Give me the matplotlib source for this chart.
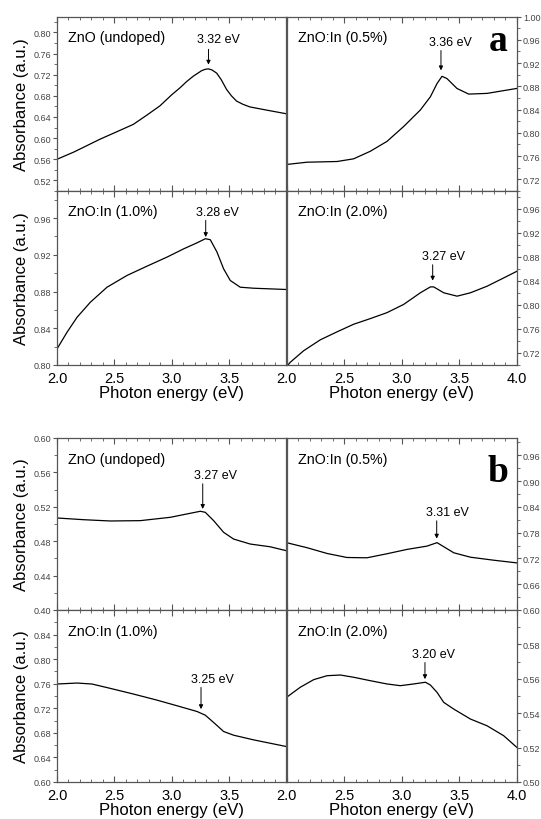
import matplotlib
matplotlib.use("Agg")
import matplotlib.pyplot as plt
from matplotlib.ticker import MultipleLocator, FixedLocator

plt.rcParams["font.family"] = ["Liberation Sans", "DejaVu Sans"]

# ---- digitised spectra (photon energy in eV, absorbance in a.u.) ----
# panel a
E_A_UNDOPED = [2.0, 2.15, 2.375, 2.5, 2.665, 2.78, 2.897, 3.0, 3.071, 3.13, 3.187, 3.26, 3.29, 3.318,
               3.35, 3.391, 3.43, 3.478, 3.52, 3.565, 3.62, 3.681, 3.826, 4.0]
A_A_UNDOPED = [0.560, 0.574, 0.598, 0.610, 0.626, 0.643, 0.661, 0.682, 0.695, 0.707, 0.717, 0.7275, 0.730,
               0.731, 0.729, 0.723, 0.711, 0.692, 0.680, 0.670, 0.664, 0.659, 0.653, 0.646]

E_A_05 = [2.0, 2.178, 2.439, 2.583, 2.728, 2.873, 3.018, 3.163, 3.25, 3.308, 3.351, 3.394, 3.481, 3.583,
          3.742, 4.0]
A_A_05 = [0.7456, 0.7495, 0.7507, 0.7553, 0.7683, 0.7853, 0.8109, 0.8393, 0.862, 0.8848, 0.8972, 0.8933,
          0.8763, 0.8666, 0.8678, 0.8763]

E_A_10 = [2.0, 2.087, 2.175, 2.291, 2.436, 2.61, 2.784, 2.959, 3.104, 3.22, 3.293, 3.336, 3.394, 3.452,
          3.51, 3.597, 3.713, 4.0]
A_A_10 = [0.8175, 0.8356, 0.852, 0.8684, 0.8847, 0.8975, 0.9076, 0.9175, 0.9265, 0.933, 0.9375, 0.9364,
          0.923, 0.9047, 0.892, 0.8847, 0.8836, 0.8822]

E_A_20 = [2.0, 2.033, 2.149, 2.294, 2.439, 2.583, 2.728, 2.873, 3.018, 3.163, 3.25, 3.279, 3.366, 3.482,
          3.598, 3.742, 3.887, 4.0]
A_A_20 = [0.697, 0.7046, 0.7237, 0.7419, 0.7551, 0.7677, 0.7771, 0.787, 0.8007, 0.82, 0.8298, 0.8298,
          0.82, 0.8144, 0.82, 0.8309, 0.8447, 0.8556]

# panel b
E_B_UNDOPED = [2.0, 2.232, 2.465, 2.726, 2.988, 3.133, 3.249, 3.292, 3.365, 3.452, 3.539, 3.684, 3.858, 4.0]
A_B_UNDOPED = [0.507, 0.505, 0.5035, 0.5039, 0.5078, 0.5117, 0.5148, 0.5136, 0.5039, 0.4903, 0.4825,
               0.4767, 0.4735, 0.4689]

E_B_05 = [2.0, 2.178, 2.352, 2.525, 2.699, 2.873, 3.047, 3.221, 3.308, 3.366, 3.453, 3.598, 3.8, 4.0]
A_B_05 = [0.7566, 0.7449, 0.7315, 0.7221, 0.7214, 0.7308, 0.7409, 0.7486, 0.7566, 0.7472, 0.7331, 0.7228,
          0.7158, 0.7096]

E_B_10 = [2.0, 2.174, 2.305, 2.465, 2.668, 2.871, 3.046, 3.22, 3.292, 3.365, 3.452, 3.539, 3.713, 4.0]
A_B_10 = [0.7595, 0.7611, 0.7595, 0.7524, 0.7431, 0.7333, 0.7241, 0.7148, 0.7088, 0.6969, 0.6822, 0.6762,
          0.6686, 0.6577]

E_B_20 = [2.0, 2.12, 2.236, 2.352, 2.468, 2.583, 2.728, 2.873, 2.989, 3.105, 3.207, 3.25, 3.308, 3.366,
          3.453, 3.598, 3.742, 3.887, 4.0]
A_B_20 = [0.5492, 0.5551, 0.5595, 0.5618, 0.5622, 0.5609, 0.5589, 0.557, 0.556, 0.557, 0.558, 0.5564,
          0.5521, 0.5463, 0.5424, 0.5366, 0.5327, 0.5269, 0.5202]

SAMPLES = ["ZnO (undoped)", "ZnO:In (0.5%)", "ZnO:In (1.0%)", "ZnO:In (2.0%)"]

# peak labels: text, arrow x, arrow tail y, arrow tip y, text x, text y
PEAKS_A = [("3.32 eV", 3.32, 0.768, 0.739, 3.41, 0.7875),
           ("3.36 eV", 3.342, 0.9415, 0.9074, 3.427, 0.957),
           ("3.28 eV", 3.296, 0.9575, 0.9393, 3.397, 0.9665),
           ("3.27 eV", 3.27, 0.8666, 0.8403, 3.362, 0.8815)]
PEAKS_B = [("3.27 eV", 3.27, 0.5467, 0.5175, 3.377, 0.5572),
           ("3.31 eV", 3.305, 0.8074, 0.766, 3.394, 0.8285),
           ("3.25 eV", 3.255, 0.754, 0.7186, 3.357, 0.7676),
           ("3.20 eV", 3.203, 0.5695, 0.5598, 3.281, 0.5744)]

# y axis: (lo, hi, first major, major step, minor step)
YAX_A = [(0.50, 0.83, 0.52, 0.04, 0.02), (0.70, 1.00, 0.72, 0.04, 0.02),
         (0.80, 0.99, 0.80, 0.04, 0.02), (0.70, 0.99, 0.72, 0.04, 0.02)]
YAX_B = [(0.40, 0.60, 0.40, 0.04, 0.02), (0.60, 1.00, 0.60, 0.06, 0.03),
         (0.60, 0.88, 0.60, 0.04, 0.02), (0.50, 0.60, 0.50, 0.02, 0.01)]

FRAME = "#555555"


def style_axis(ax, col, row, yax):
    lo, hi, first, step, minor = yax
    ax.set_xlim(2.0, 4.0)
    ax.set_ylim(lo, hi)
    n = int(round((hi - first) / step + 1e-6))
    majors = [first + i * step for i in range(n + 1)]
    if row == 1:
        # top edge label would sit on the upper plot's bottom label
        majors = [m for m in majors if m < hi - 1e-6]
    ax.yaxis.set_major_locator(FixedLocator(majors))
    ax.yaxis.set_minor_locator(MultipleLocator(minor))
    ax.yaxis.set_major_formatter(plt.FuncFormatter(lambda v, _: f"{v:.2f}"))
    ax.xaxis.set_minor_locator(MultipleLocator(0.1))
    if col == 0:
        ax.xaxis.set_major_locator(FixedLocator([2.0, 2.5, 3.0, 3.5]))
    else:
        ax.xaxis.set_major_locator(FixedLocator([2.0, 2.5, 3.0, 3.5, 4.0]))
    ax.xaxis.set_major_formatter(plt.FuncFormatter(lambda v, _: f"{v:.1f}"))

    ax.tick_params(axis="x", which="both", direction="in", top=True, bottom=True,
                   labelbottom=(row == 1), labelsize=10.5, pad=4, color=FRAME)
    ax.tick_params(axis="x", which="major", length=4)
    ax.tick_params(axis="x", which="minor", length=2)
    if col == 0:
        ax.tick_params(axis="y", which="both", direction="out", left=True, right=False,
                       labelleft=True, labelright=False)
    else:
        ax.tick_params(axis="y", which="both", direction="out", left=False, right=True,
                       labelleft=False, labelright=True)
    ax.tick_params(axis="y", which="major", length=3, labelsize=6.5, labelcolor="#444444",
                   pad=1.5, color=FRAME)
    ax.tick_params(axis="y", which="minor", length=2, color=FRAME)
    for s in ax.spines.values():
        s.set_color(FRAME)
        s.set_linewidth(0.9)

    if col == 0:
        ax.set_ylabel("Absorbance (a.u.)", fontsize=12, labelpad=3)
    if row == 1:
        ax.set_xlabel("Photon energy (eV)", fontsize=12, labelpad=0)


def draw_panel(fig, y_top, y_bot, h, series, peaks, yaxes, letter, letter_y):
    lefts = [57 / 541, 286.5 / 541]
    widths = [229.5 / 541, 230.2 / 541]
    bottoms = [y_top, y_bot]
    for i, ((e, a), pk, yax, name) in enumerate(zip(series, peaks, yaxes, SAMPLES)):
        row, col = divmod(i, 2)
        ax = fig.add_axes([lefts[col], bottoms[row], widths[col], h])
        ax.plot(e, a, color="black", lw=0.9)
        style_axis(ax, col, row, yax)
        ax.text(0.05, 0.88, name, transform=ax.transAxes, fontsize=10.3, va="center", ha="left")
        label, ax_x, tail, tip, tx, ty = pk
        ax.annotate("", xy=(ax_x, tip), xytext=(ax_x, tail),
                    arrowprops=dict(arrowstyle="-|>", color="black", lw=0.7,
                                    mutation_scale=6, shrinkA=0, shrinkB=0))
        ax.text(tx, ty, label, fontsize=9, ha="center", va="center")
        if col == 1 and row == 0:
            ax.text(0.92, letter_y, letter, transform=ax.transAxes, fontsize=27,
                    fontweight="bold", family="Liberation Serif", ha="center", va="baseline")


def main():
    fig = plt.figure(figsize=(5.41, 8.2), dpi=100)
    draw_panel(fig, 1 - 192 / 820, 1 - 366 / 820, 174.5 / 820,
               [(E_A_UNDOPED, A_A_UNDOPED), (E_A_05, A_A_05), (E_A_10, A_A_10), (E_A_20, A_A_20)],
               PEAKS_A, YAX_A, "a", 0.81)
    draw_panel(fig, 1 - 611 / 820, 1 - 783 / 820, 172 / 820,
               [(E_B_UNDOPED, A_B_UNDOPED), (E_B_05, A_B_05), (E_B_10, A_B_10), (E_B_20, A_B_20)],
               PEAKS_B, YAX_B, "b", 0.75)
    fig.savefig("out.png", dpi=100)


if __name__ == "__main__":
    main()
